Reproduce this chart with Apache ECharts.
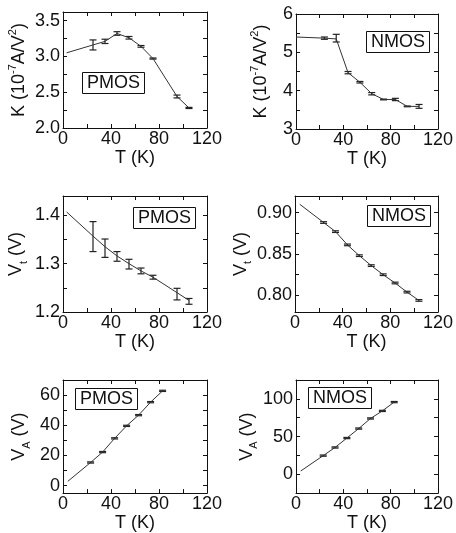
<!DOCTYPE html>
<html>
<head>
<meta charset="utf-8">
<script src="https://cdn.jsdelivr.net/npm/echarts@6/dist/echarts.min.js"></script>
<style>
  html, body { margin: 0; padding: 0; background: #fff; }
  #main { width: 456px; height: 533px; }
</style>
</head>
<body>
<div id="main"></div>
<script>
// shared x axis (temperature)
var xTicks = [0, 20, 40, 60, 80, 100, 120];
var xLabels = [0, 40, 80, 120];

// K, PMOS
var kpT = [25, 35, 45, 55, 65, 75, 95, 105];
var kpVal = [3.16, 3.21, 3.32, 3.26, 3.14, 2.97, 2.44, 2.28];
var kpErr = [0.07, 0.03, 0.025, 0.018, 0.012, 0.008, 0.02, 0.008];
var kpFitT = [3, 25, 35, 45, 55, 65, 75, 95, 105];
var kpFit = [3.05, 3.16, 3.21, 3.32, 3.26, 3.14, 2.97, 2.44, 2.28];
var kpTicks = [2.0, 2.25, 2.5, 2.75, 3.0, 3.25, 3.5];
var kpLabels = [2.0, 2.5, 3.0, 3.5];

// K, NMOS
var knT = [24, 34, 44, 54, 64, 74, 84, 94, 104];
var knVal = [5.37, 5.37, 4.47, 4.22, 3.92, 3.77, 3.77, 3.59, 3.59];
var knErr = [0.03, 0.1, 0.03, 0.02, 0.03, 0.01, 0.03, 0.01, 0.05];
var knFitT = [0, 24, 34, 44, 54, 64, 74, 84, 94, 104];
var knFit = [5.40, 5.37, 5.35, 4.47, 4.22, 3.92, 3.77, 3.77, 3.59, 3.59];
var knTicks = [3, 3.5, 4, 4.5, 5, 5.5, 6];
var knLabels = [3, 4, 5, 6];

// Vt, PMOS
var vpT = [25, 35, 45, 55, 65, 75, 95, 105];
var vpVal = [1.356, 1.332, 1.315, 1.299, 1.285, 1.272, 1.237, 1.222];
var vpErr = [0.031, 0.019, 0.01, 0.01, 0.006, 0.004, 0.012, 0.006];
var vpFitT = [3, 25, 35, 45, 55, 65, 75, 95, 105];
var vpFit = [1.407, 1.357, 1.335, 1.316, 1.300, 1.285, 1.272, 1.240, 1.224];
var vpTicks = [1.2, 1.25, 1.3, 1.35, 1.4];
var vpLabels = [1.2, 1.3, 1.4];

// Vt, NMOS
var vnT = [24, 34, 44, 54, 64, 74, 84, 94, 104];
var vnVal = [0.888, 0.877, 0.861, 0.848, 0.836, 0.825, 0.815, 0.804, 0.794];
var vnErr = [0.001, 0.001, 0.001, 0.001, 0.001, 0.001, 0.001, 0.001, 0.001];
var vnFitT = [4, 24, 34, 44, 54, 64, 74, 84, 94, 104];
var vnFit = [0.910, 0.888, 0.877, 0.861, 0.848, 0.836, 0.825, 0.815, 0.804, 0.794];
var vnTicks = [0.8, 0.825, 0.85, 0.875, 0.9];
var vnLabels = [0.8, 0.85, 0.9];

// VA, PMOS
var apT = [23, 33, 43, 53, 63, 73, 83];
var apVal = [15.3, 22.2, 31.3, 39.6, 46.7, 55.3, 62.8];
var apErr = [0.4, 0.4, 0.4, 0.4, 0.4, 0.4, 0.4];
var apFitT = [4, 23, 33, 43, 53, 63, 73, 83];
var apFit = [2.8, 15.3, 22.2, 31.3, 39.6, 46.7, 55.3, 62.8];
var apTicks = [0, 10, 20, 30, 40, 50, 60];
var apLabels = [0, 20, 40, 60];

// VA, NMOS
var anT = [23, 33, 43, 53, 63, 73, 83];
var anVal = [24.7, 35.5, 48, 60.6, 74, 84, 95.7];
var anErr = [0.8, 0.8, 0.8, 0.8, 0.8, 0.8, 0.8];
var anFitT = [4, 23, 33, 43, 53, 63, 73, 83];
var anFit = [4.3, 24.7, 35.5, 48, 60.6, 74, 84, 95.7];
var anTicks = [-25, 0, 25, 50, 75, 100, 125];
var anLabels = [0, 50, 100];

var FONT = '"Liberation Sans", Arial, sans-serif';
var INK = '#111';
var FS = 18;

var nameK = '{m|K (10}{s|-7}{m|A/V}{s|2}{m|)}';
var nameVt = '{m|V}{b|t}{m| (V)}';
var nameVA = '{m|V}{b|A}{m| (V)}';

var richName = {
  m: { fontSize: 18, color: INK, fontFamily: FONT, lineHeight: 25 },
  s: { fontSize: 11, color: INK, fontFamily: FONT, verticalAlign: 'top' },
  b: { fontSize: 11, color: INK, fontFamily: FONT, verticalAlign: 'bottom' }
};

function zip(a, b) {
  return a.map(function (v, i) { return [v, b[i]]; });
}

function errorBar(params, api) {
  var x = api.value(0);
  var lo = api.coord([x, api.value(1)]);
  var hi = api.coord([x, api.value(2)]);
  var w = 3.5;
  var st = { stroke: '#222', lineWidth: 1.2 };
  return {
    type: 'group',
    children: [
      { type: 'line', shape: { x1: hi[0], y1: hi[1], x2: lo[0], y2: lo[1] }, style: st },
      { type: 'line', shape: { x1: hi[0] - w, y1: hi[1], x2: hi[0] + w, y2: hi[1] }, style: st },
      { type: 'line', shape: { x1: lo[0] - w, y1: lo[1], x2: lo[0] + w, y2: lo[1] }, style: st }
    ]
  };
}

var option = { animation: false, grid: [], xAxis: [], yAxis: [], series: [], title: [] };

function addPanel(p) {
  var g = option.grid.length;
  option.grid.push({ left: p.box[0], top: p.box[1], width: p.box[2], height: p.box[3] });

  var line = { show: true, onZero: false, lineStyle: { color: INK, width: 1 } };
  function ticks(vals) {
    return { show: true, inside: true, length: 4, customValues: vals, lineStyle: { color: INK, width: 1 } };
  }

  option.xAxis.push({
    gridIndex: g, type: 'value', min: 0, max: 120, position: 'bottom',
    axisLine: line, axisTick: ticks(xTicks), splitLine: { show: false },
    axisLabel: { customValues: xLabels, fontSize: FS, color: INK, fontFamily: FONT, margin: 2 },
    name: 'T (K)', nameLocation: 'middle', nameGap: 19,
    nameTextStyle: { fontSize: FS, color: INK, fontFamily: FONT }
  });
  option.xAxis.push({
    gridIndex: g, type: 'value', min: 0, max: 120, position: 'top',
    axisLine: line, axisTick: ticks(xTicks), splitLine: { show: false },
    axisLabel: { show: false }
  });
  option.yAxis.push({
    gridIndex: g, type: 'value', min: p.yMin, max: p.yMax, position: 'left',
    axisLine: line, axisTick: ticks(p.yTicks), splitLine: { show: false },
    axisLabel: {
      customValues: p.yLabels, fontSize: FS, color: INK, fontFamily: FONT, margin: 3,
      formatter: function (v) { return v.toFixed(p.dec); }
    },
    name: p.yName, nameLocation: 'middle', nameGap: p.yGap,
    nameTextStyle: { rich: richName }
  });
  option.yAxis.push({
    gridIndex: g, type: 'value', min: p.yMin, max: p.yMax, position: 'right',
    axisLine: line, axisTick: ticks(p.yTicks), splitLine: { show: false },
    axisLabel: { show: false }
  });

  option.series.push({
    type: 'line', xAxisIndex: g * 2, yAxisIndex: g * 2,
    data: zip(p.fitT, p.fit), symbol: 'none',
    lineStyle: { color: '#333', width: 1 }
  });
  option.series.push({
    type: 'custom', xAxisIndex: g * 2, yAxisIndex: g * 2,
    renderItem: errorBar,
    encode: { x: 0, y: [1, 2] },
    data: p.T.map(function (t, i) { return [t, p.v[i] - p.e[i], p.v[i] + p.e[i]]; })
  });

  option.title.push({
    text: p.tag, left: p.tagPos[0], top: p.tagPos[1],
    borderWidth: 1, borderColor: INK, padding: [2, 5],
    textStyle: { fontSize: FS, fontWeight: 'normal', color: INK, fontFamily: FONT }
  });
}

addPanel({ box: [63, 12, 144, 116], yMin: 2.0, yMax: 3.62, yTicks: kpTicks, yLabels: kpLabels, dec: 1,
  yName: nameK, yGap: 31, T: kpT, v: kpVal, e: kpErr, fitT: kpFitT, fit: kpFit, tag: 'PMOS', tagPos: [82, 72] });
addPanel({ box: [296, 14, 142, 115], yMin: 3, yMax: 6, yTicks: knTicks, yLabels: knLabels, dec: 0,
  yName: nameK, yGap: 22, T: knT, v: knVal, e: knErr, fitT: knFitT, fit: knFit, tag: 'NMOS', tagPos: [366, 31] });
addPanel({ box: [63, 196, 144, 116], yMin: 1.2, yMax: 1.44, yTicks: vpTicks, yLabels: vpLabels, dec: 1,
  yName: nameVt, yGap: 34, T: vpT, v: vpVal, e: vpErr, fitT: vpFitT, fit: vpFit, tag: 'PMOS', tagPos: [133, 207] });
addPanel({ box: [295, 196, 143, 116], yMin: 0.78, yMax: 0.92, yTicks: vnTicks, yLabels: vnLabels, dec: 2,
  yName: nameVt, yGap: 39, T: vnT, v: vnVal, e: vnErr, fitT: vnFitT, fit: vnFit, tag: 'NMOS', tagPos: [367, 205] });
addPanel({ box: [63, 380, 144, 115], yMin: -5, yMax: 70, yTicks: apTicks, yLabels: apLabels, dec: 0,
  yName: nameVA, yGap: 31, T: apT, v: apVal, e: apErr, fitT: apFitT, fit: apFit, tag: 'PMOS', tagPos: [75, 388] });
addPanel({ box: [296, 380, 142, 115], yMin: -25, yMax: 125, yTicks: anTicks, yLabels: anLabels, dec: 0,
  yName: nameVA, yGap: 32, T: anT, v: anVal, e: anErr, fitT: anFitT, fit: anFit, tag: 'NMOS', tagPos: [308, 387] });

var chart = echarts.init(document.getElementById('main'));
chart.setOption(option);
</script>
</body>
</html>
